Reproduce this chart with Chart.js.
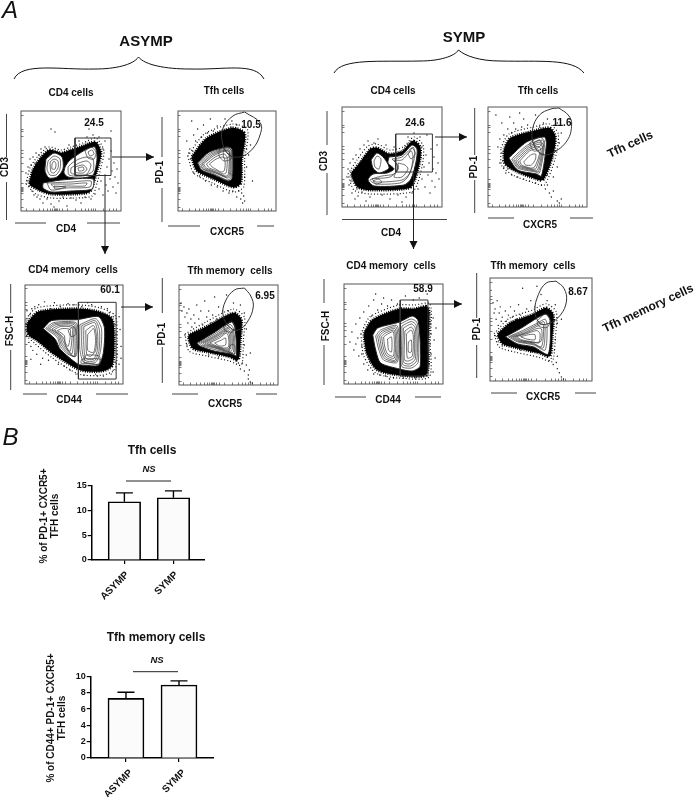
<!DOCTYPE html>
<html>
<head>
<meta charset="utf-8">
<script src="https://cdn.jsdelivr.net/npm/chart.js@4"></script>
<style>
  html, body { margin: 0; padding: 0; background: #fff; }
  #page { position: relative; width: 696px; height: 797px; overflow: hidden; }
  #page canvas, #page svg { position: absolute; }
  .lbl { position: absolute; white-space: pre; font-family: "Liberation Sans", Arial, sans-serif; font-weight: bold; color: #111; }
</style>
</head>
<body>
<div id="page"></div>
<script>
// bar values, panel B
const groups = ["ASYMP", "SYMP"];
const tfhMeans = [11.7, 12.5];
const tfhUpper = [13.5, 13.9];
const tfhTicks = [0, 5, 10, 15];
const memMeans = [7.3, 8.95];
const memUpper = [8.05, 9.45];
const memTicks = [0, 2, 4, 6, 8, 10];

// flow plots, panel A: everything is in percent of the plot frame
const flowTicksX = [5, 12, 18, 22, 26, 29, 31, 33, 34, 35, 36, 38, 41, 46, 54, 60, 64, 67, 70, 72, 74, 82, 88, 92, 95];
const flowTicksY = [4, 12, 18, 20, 21, 22, 23, 24, 28, 40, 48, 54, 58, 61, 75, 79, 82, 96];

const a1Dots = [[5,38],[6,30],[7,44],[8,25],[9,52],[10,46],[11,20],[12,54],[13,16],[14,48],[15,58],[16,14],[18,56],[19,12],[20,62],[22,8],[24,64],[26,12],[30,7],[33,4],[38,10],[42,14],[46,5],[50,13],[55,11],[60,8],[64,14],[70,12],[74,17],[78,22],[80,30],[82,16],[84,36],[85,26],[86,44],[87,20],[88,52],[89,32],[90,60],[91,40],[92,24],[93,48],[94,34],[95,18],[96,42],[97,28],[82,62],[84,70],[78,74],[72,76],[66,74],[58,70],[30,82],[34,79],[48,66],[90,80],[68,82]];
const a1Halo = [[9,27],[13,41],[20,52],[29,60],[40,57],[50,60],[62,64],[74,68],[79,58],[76,44],[72,30],[68,20],[55,18],[30,18],[18,22]];
const a1Ring = [[5,27],[9,43],[17,55],[28,64],[40,61],[50,64],[62,68],[75,73],[83,60],[80,44],[76,28],[71,15],[55,13],[30,13],[15,17]];
const a1Lobes = [
  [[25,52],[33,58],[41,54],[42,42],[36,34],[28,33],[24,40]],
  [[44,44],[48,50],[56,56],[66,62],[74,64],[76,52],[72,36],[60,33],[47,34],[43,38]],
  [[22,28],[40,31],[72,32],[71,22],[50,20],[30,19],[22,23]]
];
const a1Contours = [
  [[27,50],[33,55],[39,52],[39,42],[35,36],[29,36],[26,42]],
  [[29,49],[33,52],[37,50],[37,43],[33,38],[30,39]],
  [[31,47],[33,50],[35,47],[34,42],[31,42]],
  [[47,44],[51,48],[58,52],[66,54],[72,52],[72,40],[62,35],[48,36]],
  [[50,43],[58,48],[66,50],[70,46],[66,37],[58,36],[50,38]],
  [[54,44],[62,46],[66,42],[62,38],[54,39]],
  [[57,43],[62,44],[63,41],[58,40]],
  [[64,60],[70,64],[75,59],[73,52],[67,53]],
  [[67,59],[71,61],[73,57],[69,55]],
  [[26,28],[50,29],[70,30],[69,24],[45,23],[30,21]],
  [[30,27],[50,27],[66,28],[64,25],[45,25],[33,24]],
  [[33,25],[45,24],[34,22]]
];
const a1Gate = [[54,35.5],[90,35.5],[90,73],[54,73]];

const a2Dots = [[14,90],[16,76],[18,70],[20,82],[22,66],[24,74],[26,86],[28,68],[30,78],[33,92],[36,80],[38,72],[40,85],[44,78],[12,62],[13,52],[11,58],[15,60],[18,50],[9,70],[16,38],[22,35],[28,30],[34,26],[40,24],[46,20],[52,18],[56,20],[60,14],[62,20],[64,12],[66,8],[68,10],[67,15],[65,18],[58,24],[68,34],[70,44],[72,56],[70,62],[68,70],[60,86],[55,90],[62,70],[74,66],[76,30],[50,76],[54,84],[48,92]];
const a2Halo = [[15,54],[30,72],[56,82],[67,77],[64,51],[63,28],[56,25],[37,33],[20,41]];
const a2Ring = [[10,55],[27,77],[56,87],[71,81],[68,51],[67,24],[57,19],[35,28],[16,38]];
const a2Lobes = [[[20,48],[32,59],[50,64],[55,62],[56,44],[55,32],[51,30],[37,36],[24,41]]];
const a2Contours = [
  [[21,47],[33,58],[49,63],[54,61],[55,44],[54,33],[50,31],[37,37],[25,42]],
  [[23,47],[34,57],[49,62],[53,60],[54,44],[53,34],[50,33],[38,38],[26,42]],
  [[24.5,47],[35,56],[48.5,61],[52.5,58.5],[53,44],[52,35],[49,34],[38.5,38.5],[27.5,42.5]],
  [[26,47],[36,55],[48,60],[52,57],[52,44],[51,36],[48,35],[39,39],[29,43]],
  [[29,47],[38,54],[47,57],[50,54],[50,44],[49,38],[46,37],[40,40],[32,43]],
  [[32,47],[39,52],[46,54],[48,50],[48,44],[47,40],[44,39],[40,41],[35,44]],
  [[42,62],[50,64],[55,60],[54,52],[47,50],[42,55]],
  [[46,60],[52,60],[52,54],[47,53]]
];
const a2Gate = [[68,99],[84,88],[84,77],[76,62],[63,54],[51,57],[45,70],[46,83],[56,95]];

const a3Dots = [[2,48],[3,56],[3,66],[4,42],[5,70],[6,38],[7,76],[8,34],[10,78],[12,30],[14,80],[18,26],[20,83],[24,24],[26,76],[30,82],[34,20],[36,78],[40,18],[44,81],[46,14],[50,80],[52,10],[58,78],[60,9],[64,82],[68,80],[72,10],[74,8],[78,78],[80,8],[84,76],[86,72],[88,10],[90,68],[90,14],[92,60],[92,22],[93,50],[94,30],[94,40],[96,68],[96,20],[97,55],[98,38],[98,26],[1,60],[2,74],[6,25],[16,20]];
const a3Halo = [[3,61],[14,72],[53,75],[75,72],[88,65],[90,45],[88,19],[78,14],[57,15],[30,31],[14,44],[4,51]];
const a3Ring = [[1,66],[12,77],[53,80],[76,77],[92,69],[94,45],[92,15],[79,9],[55,10],[27,27],[10,41],[1,50]];
const a3Lobes = [[[18.5,56],[27,64],[53,65],[75,68],[81,57],[80,32],[75,19],[61,19],[54,20],[36,35],[31,45]]];
const a3Contours = [
  [[21,56],[29,62],[52,62],[54,50],[52,28],[44,30],[36,38],[33,47]],
  [[23,56],[30.5,61],[51,61],[52.5,49],[51,28],[44,31.5],[37,39.5],[34,48]],
  [[25,56],[32,60],[50,60],[51,48],[50,28],[44,33],[38,41],[35,49]],
  [[27.5,55.5],[34,59],[49,58.5],[49.5,47.5],[48,30.5],[43,35.5],[38.5,44],[37,48]],
  [[30,55],[36,58],[48,57],[48,47],[46,33],[42,38],[39,47]],
  [[33,54],[38,56],[46,55],[46,47],[44,38],[41,42],[40,49]],
  [[44,54],[50,58],[52,50],[47,48]],
  [[56,60],[72,66],[78,56],[77,33],[72,22],[60,22],[56,35]],
  [[58,59],[71.5,64],[76,54],[75.5,34],[71,23.5],[61,24],[58,37.5]],
  [[60,58],[71,62],[74,52],[74,35],[70,25],[62,26],[60,40]],
  [[62,54],[70,59],[73,48],[72,33.5],[67,28],[63,30]],
  [[64,50],[70,56],[72,44],[70,32],[64,34]],
  [[60,22],[75,20],[76,28],[62,29]],
  [[57,21],[76,20],[77,25],[58,25]]
];
const a3Gate = [[54.5,5],[93,5],[93,82.5],[54.5,82.5]];

const a4Dots = [[2,82],[3,74],[5,78],[6,68],[8,72],[9,62],[10,76],[12,66],[13,58],[15,70],[16,62],[18,80],[20,66],[22,74],[24,60],[26,84],[28,68],[30,74],[32,62],[34,70],[36,88],[38,66],[40,78],[44,74],[46,66],[50,74],[48,90],[55,82],[62,80],[58,70],[66,72],[68,56],[66,40],[68,30],[64,22],[62,16],[66,14],[70,10],[68,20],[70,6],[72,3],[74,2],[71,15],[60,22],[40,28],[30,30],[8,40],[10,44],[6,50],[72,32]];
const a4Halo = [[10,49],[29,58],[55,71],[62,65],[61,45.5],[59,26],[52,29],[29,34],[14.5,37.5]];
const a4Ring = [[6,51],[27,63],[55,76],[66,68],[65,45],[63,20],[51,24],[28,29],[10,34]];
const a4Lobes = [[[18,42],[35,52],[53,63],[56.5,57],[58,29.5],[53,31],[35.5,34],[21,39]]];
const a4Contours = [
  [[20,42],[36,51],[51.5,60.5],[55,56],[56.5,31],[51.5,32],[36,35.5],[22.5,39.5]],
  [[22,42],[37,50],[50,58],[54,55],[55,33],[50,33],[36,37],[24,40]],
  [[24,42],[38,49.5],[49.5,56.5],[53,53.5],[53.5,34.5],[48.5,34],[36.5,37.5],[26,40.5]],
  [[26,42],[39,49],[49,55],[52,52],[52,36],[47,35],[37,38],[28,41]],
  [[28.5,42],[40,48],[48.5,53.5],[51,50],[51,37],[46,36],[37.5,38.5],[30,41]],
  [[31,42],[41,47],[48,52],[50,48],[50,38],[45,37],[38,39]],
  [[36,42],[43,45],[47,47],[47,40],[41,39]],
  [[45,58],[53,64],[57,58],[54,53],[47,54]],
  [[50,33],[56,31],[56,40],[52,40]]
];
const a4Gate = [[66,97],[72.5,89],[75,78],[69,63],[60,55],[52,57],[44.5,69.5],[47,84],[56,95]];

const s1Dots = [[5,30],[6,38],[7,22],[8,44],[9,26],[10,14],[11,48],[12,34],[13,8],[14,52],[15,18],[16,11],[18,58],[20,15],[22,62],[24,6],[26,66],[28,10],[32,64],[36,68],[40,12],[44,62],[48,8],[52,60],[56,12],[60,5],[64,10],[66,70],[70,14],[72,74],[76,18],[78,70],[80,28],[80,60],[82,40],[83,20],[84,52],[85,72],[86,32],[87,44],[88,14],[89,58],[90,26],[91,38],[92,50],[93,20],[94,34],[95,62],[96,44],[97,28]];
const s1Halo = [[10,33],[19,44],[29,57],[35,58],[47,52],[61,55],[71,65],[77,60],[77,47],[72,28],[67,20],[29,18],[16,21]];
const s1Ring = [[6,33],[15,47],[26,61],[35,63],[48,57],[61,60],[72,70],[81,62],[81,46],[76,25],[70,15],[28,13],[12,17]];
const s1Lobes = [
  [[29,47],[35,54],[42,49],[47,39],[37,34],[31,39]],
  [[47,50],[60,52],[70,62],[75,58],[74,45],[69,28],[62,22],[32,21],[26,27],[31,33],[45,34],[52,38],[46,44]]
];
const s1Contours = [
  [[50,48],[60,50],[70,59],[73,54],[70,40],[65,29],[58,24],[34,23],[28,27],[40,31],[52,33],[56,41]],
  [[52,47],[60,47],[69,56],[71,50],[68,34],[60,27],[34,25],[30,28],[48,30],[56,38]],
  [[56,44],[63,42],[66,38],[60,30],[52,30],[56,38]],
  [[66,53],[71,60],[73,53],[69,48]],
  [[31,26],[36,28],[40,25],[34,23]],
  [[32,46],[35,51],[39,48],[37,38],[33,40]]
];
const s1Gate = [[53.7,35],[90.4,35],[90.4,73],[53.7,73]];

const s2Dots = [[8,92],[14,84],[16,72],[12,68],[18,62],[20,78],[22,90],[24,74],[26,84],[28,78],[32,94],[34,80],[36,88],[40,82],[14,54],[15,46],[16,40],[20,38],[24,32],[30,30],[36,28],[42,26],[48,24],[54,22],[58,18],[60,22],[62,14],[64,10],[66,16],[70,6],[72,4],[74,8],[70,40],[68,56],[72,64],[74,74],[70,84],[60,88],[56,84],[52,80],[48,92],[66,30],[60,32],[10,60],[12,44],[18,34]];
const s2Halo = [[17,57],[23,68],[46,75],[62,78],[67,70],[64,50],[55,28],[49,29],[30,36],[18,44]];
const s2Ring = [[13,59],[21,73],[46,80],[62,83],[71,73],[68,49],[57,22],[47,24],[27,31],[14,41]];
const s2Lobes = [[[21,49],[39,65],[57,70],[59,63],[54,31],[49,33],[30,37]]];
const s2Contours = [
  [[24,48],[40,62],[55,67],[57,61],[52,34],[48,35],[30,39]],
  [[26,47.5],[40.5,60.5],[54,65],[56,59.5],[51,35.5],[47,36],[30.5,40]],
  [[28,47],[41,59],[53,63],[55,58],[50,37],[46,37],[31,41]],
  [[30,46.5],[41.5,57.5],[51.5,60.5],[53.5,55.5],[48.5,38.5],[44.5,38],[32.5,41.5]],
  [[32,46],[42,56],[50,58],[52,53],[47,40],[43,39],[34,42]],
  [[36,45],[43,52],[48,53],[48,48],[44,42],[38,42]],
  [[42,64],[52,70],[57,66],[54,58],[46,56]],
  [[46,64],[52,67],[54,63],[50,59]]
];
const s2Gate = [[71.6,99],[81,92],[84.5,83],[80,66.5],[65,54],[54,53],[46,63],[45,78],[52,92],[63.5,98]];

const s3Dots = [[6,42],[8,52],[10,34],[12,60],[14,46],[15,28],[16,66],[18,38],[20,20],[20,72],[22,54],[24,14],[25,78],[28,68],[30,10],[30,84],[34,74],[36,9],[38,80],[40,86],[42,8],[44,78],[46,5],[48,84],[50,6],[54,80],[60,6],[62,88],[64,8],[70,84],[72,6],[76,86],[78,8],[86,70],[86,20],[87,60],[87,40],[88,30],[88,50],[90,12],[90,66],[91,44],[92,26],[93,56],[86,80],[18,30],[12,40],[26,22],[32,90],[84,90]];
const s3Halo = [[21,50],[29,63],[56,74],[71,74],[84,76],[84,41],[82,10],[56,10],[34,15],[24,31]];
const s3Ring = [[17,50],[26,67],[55,79],[71,79],[87,80],[87,40],[86,7],[55,6],[32,11],[20,28]];
const s3Lobes = [[[29,49],[34,56],[56,62],[69,68],[75,63],[77,18],[69,13],[56,15],[37,21],[32,34]]];
const s3Contours = [
  [[32,48],[37,54],[54,58],[54,22],[40,24],[35,35]],
  [[34,48],[38.5,53],[53,56.5],[53,23],[41,25.5],[36.5,35.5]],
  [[36,48],[40,52],[52,55],[52,24],[42,27],[38,36]],
  [[38,47.5],[42,51],[51,53.5],[51,26],[43,28.5],[39.5,37]],
  [[40,47],[44,50],[50,52],[50,28],[44,30],[41,38]],
  [[44,45],[48,47],[48,32],[45,34]],
  [[57,60],[68,65],[74,61],[75,22],[68,16],[58,18]],
  [[58.5,58],[68,62.5],[73,58.5],[73.5,23.5],[67,18],[59,20]],
  [[60,56],[68,60],[72,56],[72,25],[66,20],[60,22]],
  [[61.5,53],[68,57],[71,52],[70.5,26.5],[65,23],[61,24]],
  [[63,50],[68,54],[70,48],[69,28],[64,26]],
  [[65,42],[68,44],[68,32],[65,32]]
];
const s3Gate = [[56.8,8],[84.8,8],[84.8,84],[56.8,84]];

const s4Dots = [[1,88],[3,76],[4,66],[5,70],[6,60],[7,78],[8,54],[9,66],[10,72],[11,58],[12,62],[13,50],[15,68],[16,58],[18,64],[20,72],[22,62],[24,68],[26,60],[28,74],[30,64],[32,90],[36,70],[40,78],[44,72],[50,84],[56,78],[64,74],[66,56],[64,40],[63,30],[60,22],[62,16],[66,12],[68,8],[70,4],[72,2],[65,18],[58,20],[40,28],[30,30],[8,38],[12,34],[5,44],[66,24],[70,60],[46,92]];
const s4Halo = [[8,45],[21,56],[43,64],[55,70],[61,64],[60,43],[58,25],[49,28],[27,33],[13,37]];
const s4Ring = [[4,46],[19,61],[42,69],[55,75],[65,67],[64,42],[61,19],[48,23],[25,28],[9,33]];
const s4Lobes = [[[15,43],[30,51],[46,61],[55,65],[59,59],[57,26],[43,33],[27,36]]];
const s4Contours = [
  [[18,43],[32,49],[46,56],[54,60],[56,54],[54,30],[43,35],[27,38]],
  [[20,43],[33,48],[46,54.5],[53,57.5],[54,47],[52,32],[42.5,36],[28,38.5]],
  [[22,43],[34,47],[46,53],[52,55],[52,40],[50,33],[42,37],[29,39]],
  [[24,43],[35,46.5],[46,51],[50.5,50.5],[50,38.5],[42,37.5],[30,39.5]],
  [[26,43],[36,46],[46,49],[49,46],[48,37],[42,38],[31,40]],
  [[30,43],[38,45],[44,45],[44,40],[35,41]],
  [[46,58],[54,65],[59,59],[56,52],[48,53]]
];
const s4Gate = [[64.7,97],[72.5,90],[75,77.6],[69,64],[58,56],[49,56],[44,68],[47.5,84],[55,95]];

const page = document.getElementById("page");
const FONT = '"Liberation Sans", Arial, sans-serif';
Chart.defaults.font.family = FONT;
Chart.defaults.color = "#111";

function addCanvas(left, top, width, height) {
  const c = document.createElement("canvas");
  c.width = width;
  c.height = height;
  c.style.left = left + "px";
  c.style.top = top + "px";
  c.style.width = width + "px";
  c.style.height = height + "px";
  page.appendChild(c);
  return c;
}

const toPoints = (pairs, close) => {
  const pts = pairs.map(p => ({ x: p[0], y: p[1] }));
  if (close) pts.push(pts[0]);
  return pts;
};

// fills a closed contour with the same path the line element strokes
const polyFill = {
  id: "polyFill",
  beforeDatasetDraw(chart, args) {
    const ds = chart.data.datasets[args.index];
    if (!ds.polyColor) return;
    const line = args.meta.dataset;
    line.updateControlPoints(chart.chartArea, "x");
    const ctx = chart.ctx;
    ctx.save();
    ctx.beginPath();
    line.path(ctx);
    ctx.closePath();
    ctx.fillStyle = ds.polyColor;
    ctx.fill();
    ctx.restore();
  }
};

const frame = {
  id: "frame",
  afterDraw(chart) {
    const a = chart.chartArea, ctx = chart.ctx;
    ctx.save();
    ctx.strokeStyle = "#555";
    ctx.lineWidth = 1;
    ctx.strokeRect(a.left, a.top, a.width, a.height);
    ctx.restore();
  }
};

function curve(pairs, color, width, tension, fillColor, dash) {
  return {
    data: toPoints(pairs, true),
    showLine: true,
    borderColor: color,
    borderWidth: width,
    borderDash: dash || [],
    tension: tension,
    pointRadius: 0,
    polyColor: fillColor,
    borderJoinStyle: "round"
  };
}

function flowPlot(box, dots, ring, halo, lobes, contours, gate, gateTension) {
  const sets = [];
  sets.push({ data: toPoints(dots), showLine: false, pointRadius: 0.7, pointBorderWidth: 0, pointBackgroundColor: "#111" });
  // stippled fringe of the dense outer population
  sets.push(curve(ring, "#111", 1.2, 0.25, null, [1, 2.2]));
  sets.push(curve(halo, "#000", 5, 0.25, null, [1, 1.2]));
  sets.push(curve(halo, "#000", 2.5, 0.25, "#000"));
  lobes.forEach(l => sets.push(curve(l, "#222", 1, 0.25, "#fff")));
  contours.forEach(c => sets.push(curve(c, "#333", 0.7, 0.25)));
  sets.push(curve(gate, "#333", 1, gateTension));

  const axis = (position, list) => ({
    type: "linear",
    position: position,
    min: 0,
    max: 100,
    border: { display: false },
    grid: { drawOnChartArea: false, drawTicks: true, tickLength: -2.5, color: "#444", lineWidth: 0.7 },
    ticks: { display: false, autoSkip: false },
    afterBuildTicks: s => { s.ticks = list.map(v => ({ value: v })); },
    afterFit: s => { if (position === "left") s.width = 0; else s.height = 0; }
  });

  new Chart(addCanvas(box[0] - 2, box[1] - 2, box[2] + 4, box[3] + 4), {
    type: "scatter",
    data: { datasets: sets.reverse() },
    options: {
      responsive: false,
      animation: false,
      layout: { padding: 2 },
      plugins: { legend: { display: false }, tooltip: { enabled: false } },
      scales: { x: axis("bottom", flowTicksX), y: axis("left", flowTicksY) }
    },
    plugins: [polyFill, frame]
  });
}

// left, top, width, height of each plot frame
flowPlot([19, 109, 104, 104], a1Dots, a1Ring, a1Halo, a1Lobes, a1Contours, a1Gate, 0);
flowPlot([176, 109, 102, 104], a2Dots, a2Ring, a2Halo, a2Lobes, a2Contours, a2Gate, 0.4);
flowPlot([23, 283, 102, 103], a3Dots, a3Ring, a3Halo, a3Lobes, a3Contours, a3Gate, 0);
flowPlot([177, 283, 103, 104], a4Dots, a4Ring, a4Halo, a4Lobes, a4Contours, a4Gate, 0.4);
flowPlot([340, 105, 104, 104], s1Dots, s1Ring, s1Halo, s1Lobes, s1Contours, s1Gate, 0);
flowPlot([486, 105, 103, 104], s2Dots, s2Ring, s2Halo, s2Lobes, s2Contours, s2Gate, 0.4);
flowPlot([342, 282, 103, 104], s3Dots, s3Ring, s3Halo, s3Lobes, s3Contours, s3Gate, 0);
flowPlot([488, 276, 106, 107], s4Dots, s4Ring, s4Halo, s4Lobes, s4Contours, s4Gate, 0.4);

const whiskers = {
  id: "whiskers",
  afterDatasetsDraw(chart) {
    const ds = chart.data.datasets[0];
    const x = chart.scales.x, y = chart.scales.y, ctx = chart.ctx;
    ctx.save();
    ctx.strokeStyle = "#000";
    ctx.lineWidth = 1.4;
    ds.upper.forEach((u, i) => {
      const px = x.getPixelForValue(i + 1);
      ctx.beginPath();
      ctx.moveTo(px, y.getPixelForValue(ds.data[i].y));
      ctx.lineTo(px, y.getPixelForValue(u));
      ctx.moveTo(px - 8.5, y.getPixelForValue(u));
      ctx.lineTo(px + 8.5, y.getPixelForValue(u));
      ctx.stroke();
    });
    ctx.restore();
  }
};

function barPlot(o) {
  new Chart(addCanvas(o.left, o.top, o.width, o.height), {
    type: "bar",
    data: {
      datasets: [{
        data: o.means.map((v, i) => ({ x: i + 1, y: v })),
        upper: o.upper,
        backgroundColor: "#fbfbfb",
        borderColor: "#000",
        borderWidth: 1.6,
        barThickness: o.barWidth
      }]
    },
    options: {
      responsive: false,
      animation: false,
      layout: { padding: { top: o.padTop, right: 0, left: 0, bottom: 0 } },
      plugins: { legend: { display: false }, tooltip: { enabled: false } },
      scales: {
        x: {
          type: "linear",
          offset: false,
          min: o.xMin,
          max: o.xMax,
          grid: { display: true, offset: false, drawOnChartArea: false, tickLength: 4, color: "#000", lineWidth: 1.2 },
          border: { color: "#000", width: 1.5 },
          ticks: {
            autoSkip: false,
            minRotation: 45,
            maxRotation: 45,
            padding: 5,
            labelOffset: o.labelShift,
            font: { size: 10, weight: "bold" },
            callback: v => groups[v - 1]
          },
          afterBuildTicks: s => { s.ticks = groups.map((g, i) => ({ value: i + 1 })); },
          afterFit: s => { s.height = o.xHeight; }
        },
        y: {
          min: 0,
          max: o.yTicks[o.yTicks.length - 1],
          grid: { display: true, drawOnChartArea: false, tickLength: 4, color: "#000", lineWidth: 1.2 },
          border: { color: "#000", width: 1.5 },
          ticks: { padding: 1, font: { size: 9, weight: "bold" } },
          afterBuildTicks: s => { s.ticks = o.yTicks.map(v => ({ value: v })); },
          afterFit: s => { s.width = o.yWidth; }
        }
      }
    },
    plugins: [whiskers]
  });
}

barPlot({
  left: 60, top: 479, width: 145, height: 129, padTop: 6, xHeight: 48, yWidth: 31.7, labelShift: 3,
  means: tfhMeans, upper: tfhUpper, yTicks: tfhTicks, barWidth: 32.5, xMin: 0.334, xMax: 2.643
});
barPlot({
  left: 66, top: 670, width: 148, height: 127, padTop: 6, xHeight: 39, yWidth: 24.7, labelShift: 5,
  means: memMeans, upper: memUpper, yTicks: memTicks, barWidth: 36, xMin: 0.335, xMax: 2.66
});

// figure furniture: braces, arrows, axis rules, significance brackets
const rules = [
  [6.5,114,6.5,157],[6.5,182,6.5,220],[15,223,46,223],[87,223,120,223],
  [162,117,162,157],[162,188,162,222],[168,226,200,226],[257,226,274,226],
  [327,111,327,145],[327,173,327,215],[342,219.5,447,219.5],
  [474.7,108,474.7,155],[474.7,180,474.7,213],[488,218,514,218],[570,218,593,218],
  [10.7,284,10.7,313],[10.7,350,10.7,390],[23,394,47,394],[96,394,128,394],
  [162.3,278,162.3,313],[162.3,347,162.3,383],[172,394,198,394],[256,394,277,394],
  [324,279,324,303],[324,345,324,385],[335,397,366,397],[415,397,441,397],
  [476.7,273,476.7,318],[476.7,345,476.7,378],[491,393,517,393],[575,393,596,393]
];
const arrows = [
  [112,157,154,157],[105,176,105,254],[121,307,153,307],
  [435,137,467,137],[413.5,172,413.5,249],[430,304,462,304]
];
const brackets = [[126,481,171,481],[133,671.7,178,671.7]];

let svg = '<svg width="696" height="797" viewBox="0 0 696 797" style="left:0;top:0">';
svg += '<path fill="none" stroke="#111" stroke-width="1" d="M14,79 C22,62 60,70 95,69 C115,69 133,65 138.5,57 C145,65 165,69 190,69 C225,70 255,62 264,79"/>';
svg += '<path fill="none" stroke="#111" stroke-width="1" d="M334,73 C342,58 380,62 420,61 C440,61 455,56 458.5,50 C465,56 480,61 500,61 C540,62 572,58 584,73"/>';
rules.forEach(r => { svg += `<line x1="${r[0]}" y1="${r[1]}" x2="${r[2]}" y2="${r[3]}" stroke="#444" stroke-width="1"/>`; });
brackets.forEach(r => { svg += `<line x1="${r[0]}" y1="${r[1]}" x2="${r[2]}" y2="${r[3]}" stroke="#222" stroke-width="1"/>`; });
arrows.forEach(a => {
  const horiz = a[1] === a[3];
  svg += `<line x1="${a[0]}" y1="${a[1]}" x2="${a[2]}" y2="${a[3]}" stroke="#222" stroke-width="1"/>`;
  const pts = horiz
    ? `${a[2]},${a[3]} ${a[2] - 8},${a[3] - 4} ${a[2] - 8},${a[3] + 4}`
    : `${a[2]},${a[3]} ${a[2] - 4},${a[3] - 8} ${a[2] + 4},${a[3] - 8}`;
  svg += `<polygon points="${pts}" fill="#111"/>`;
});
svg += "</svg>";
page.insertAdjacentHTML("beforeend", svg);

// text, centre x, centre y, size, rotation, style
const labels = [
  ["A", 10, 10, 24, 0, "italic"], ["B", 10.5, 437, 24, 0, "italic"],
  ["ASYMP", 146, 40, 15, 0], ["SYMP", 464, 36, 15, 0],
  ["CD4 cells", 71, 92, 10, 0], ["Tfh cells", 224, 90, 10, 0],
  ["CD4 cells", 393, 90, 10, 0], ["Tfh cells", 538, 90, 10, 0],
  ["CD4 memory  cells", 73, 269, 10, 0], ["Tfh memory  cells", 230, 270, 10, 0],
  ["CD4 memory  cells", 391, 265, 10, 0], ["Tfh memory  cells", 533, 265, 10, 0],
  ["CD4", 66, 228, 10, 0], ["CXCR5", 227, 231, 10, 0],
  ["CD4", 391, 232, 10, 0], ["CXCR5", 540, 224, 10, 0],
  ["CD44", 69, 399, 10, 0], ["CXCR5", 225, 403, 10, 0],
  ["CD44", 388, 399, 10, 0], ["CXCR5", 543, 396, 10, 0],
  ["CD3", 4, 167, 10, -90], ["PD-1", 159, 172, 10, -90],
  ["CD3", 323, 161, 10, -90], ["PD-1", 473, 167, 10, -90],
  ["FSC-H", 9, 331, 10, -90], ["PD-1", 161, 334, 10, -90],
  ["FSC-H", 325, 326, 10, -90], ["PD-1", 476, 329, 10, -90],
  ["24.5", 94, 122, 10, 0], ["10.5", 251, 124, 10, 0],
  ["60.1", 110, 289, 10, 0], ["6.95", 265, 295, 10, 0],
  ["24.6", 415, 122, 10, 0], ["11.6", 562, 122, 10, 0],
  ["58.9", 423, 288, 10, 0], ["8.67", 578, 291, 10, 0],
  ["Tfh cells", 630, 144, 12, -25], ["Tfh memory cells", 648, 308, 12, -25],
  ["Tfh cells", 152, 450, 12, 0], ["Tfh memory cells", 156, 637, 12, 0],
  ["NS", 149, 468, 9.5, 0, "italic"], ["NS", 157, 659, 9.5, 0, "italic"],
  ["% of PD-1+ CXCR5+", 43, 516, 10, -90], ["TFH cells", 54, 516, 10, -90],
  ["% of CD44+ PD-1+ CXCR5+", 50, 718, 10, -90], ["TFH cells", 61, 718, 10, -90]
];
labels.forEach(l => {
  const d = document.createElement("div");
  d.className = "lbl";
  d.textContent = l[0];
  d.style.left = l[1] + "px";
  d.style.top = l[2] + "px";
  d.style.fontSize = l[3] + "px";
  d.style.transform = `translate(-50%,-50%) rotate(${l[4]}deg)`;
  if (l[5] === "italic") d.style.fontStyle = "italic";
  if (l[0] === "A" || l[0] === "B") d.style.fontWeight = "normal";
  page.appendChild(d);
});
</script>
</body>
</html>
